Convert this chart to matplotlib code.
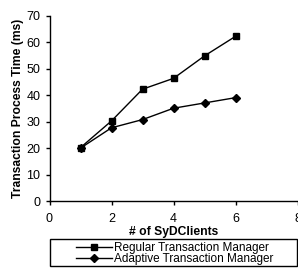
import matplotlib.pyplot as plt
from matplotlib.patches import Rectangle

plt.rcParams['font.family'] = ['Liberation Sans', 'DejaVu Sans']

clients = [1, 2, 3, 4, 5, 6]
regular = [20.2, 30.3, 42.3, 46.4, 54.9, 62.3]
adaptive = [20.0, 27.7, 30.8, 35.1, 37.1, 39.1]

fig = plt.figure(figsize=(2.98, 2.69), dpi=100)
ax = fig.add_axes([49.5 / 298, 1 - 201 / 269, 248 / 298, 185 / 269])

ax.plot(clients, regular, color='black', lw=1, marker='s', markersize=5,
        label='Regular Transaction Manager')
ax.plot(clients, adaptive, color='black', lw=1, marker='D', markersize=4.5,
        label='Adaptive Transaction Manager')

ax.set_xlim(0, 8)
ax.set_ylim(0, 70)
ax.set_xticks([0, 2, 4, 6, 8])
ax.set_yticks(range(0, 71, 10))
ax.tick_params(labelsize=9, length=3, width=1, direction='out')
ax.tick_params(axis='x', pad=6)

for s in ['top', 'right']:
    ax.spines[s].set_visible(False)
for s in ['left', 'bottom']:
    ax.spines[s].set_linewidth(1)

ax.set_xlabel('# of SyDClients', fontsize=8.7, fontweight='bold', labelpad=0.5)
ax.set_ylabel('Transaction Process Time (ms)', fontsize=8.7, fontweight='bold', labelpad=2)

# legend box drawn separately, entries centred inside it
fig.patches.append(Rectangle((49.5 / 298, 1 - 265.5 / 269), 247 / 298, 27 / 269,
                             transform=fig.transFigure, fill=False,
                             edgecolor='black', lw=1))
leg = fig.legend(loc='center', bbox_to_anchor=(175 / 298, 1 - 253.5 / 269),
                 fontsize=8.5, frameon=False, borderpad=0, labelspacing=-0.1,
                 handlelength=3.0, handletextpad=0.2, borderaxespad=0)

fig.savefig('out.png', dpi=100)
